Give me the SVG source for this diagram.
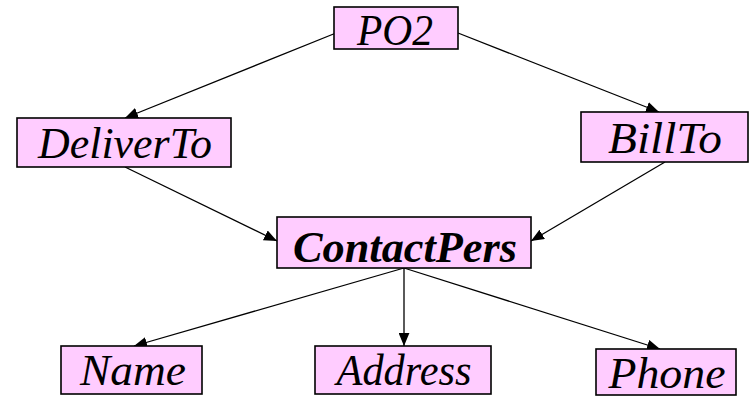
<svg xmlns="http://www.w3.org/2000/svg" width="753" height="397" viewBox="0 0 753 397">
<style>
.box{fill:#FFCCFF;stroke:#000;stroke-width:1.6}
.t{font-family:"Liberation Serif","Times New Roman",serif;font-style:italic;font-size:44px;text-anchor:middle;fill:#000}
.b{font-weight:bold}
.e{stroke:#000;stroke-width:1.3;fill:none;marker-end:url(#ah)}
</style>
<defs>
<marker id="ah" viewBox="0 0 12 10" refX="12" refY="5" markerWidth="13" markerHeight="11" markerUnits="userSpaceOnUse" orient="auto">
<path d="M0,0 L12,5 L0,10 z" fill="#000"/>
</marker>
</defs>
<rect width="753" height="397" fill="#fff"/>
<g id="connectors">
<line class="e" x1="336" y1="33" x2="125" y2="118"/>
<line class="e" x1="458" y1="33" x2="659" y2="112"/>
<line class="e" x1="125" y1="167" x2="277" y2="241"/>
<line class="e" x1="665" y1="162" x2="531" y2="241"/>
<line class="e" x1="404" y1="268" x2="134" y2="346"/>
<line class="e" x1="404" y1="268" x2="404" y2="346"/>
<line class="e" x1="404" y1="268" x2="660" y2="349"/>
</g>
<g id="PO2"><rect class="box" x="334" y="7" width="124" height="42"/><text class="t" x="395" y="45" textLength="76" lengthAdjust="spacingAndGlyphs">PO2</text></g>
<g id="DeliverTo"><rect class="box" x="17" y="118" width="214" height="49"/><text class="t" x="125" y="158" textLength="174" lengthAdjust="spacingAndGlyphs">DeliverTo</text></g>
<g id="BillTo"><rect class="box" x="581" y="112" width="167" height="50"/><text class="t" x="665" y="153" textLength="114" lengthAdjust="spacingAndGlyphs">BillTo</text></g>
<g id="ContactPers"><rect class="box" x="277" y="217" width="254" height="51"/><text class="t b" x="405" y="262" textLength="224" lengthAdjust="spacingAndGlyphs">ContactPers</text></g>
<g id="Name"><rect class="box" x="61" y="346" width="141" height="48"/><text class="t" x="133" y="385" textLength="106" lengthAdjust="spacingAndGlyphs">Name</text></g>
<g id="Address"><rect class="box" x="315" y="346" width="176" height="48"/><text class="t" x="404" y="385" textLength="135" lengthAdjust="spacingAndGlyphs">Address</text></g>
<g id="Phone"><rect class="box" x="596" y="349" width="140" height="46"/><text class="t" x="667" y="388" textLength="117" lengthAdjust="spacingAndGlyphs">Phone</text></g>
</svg>
